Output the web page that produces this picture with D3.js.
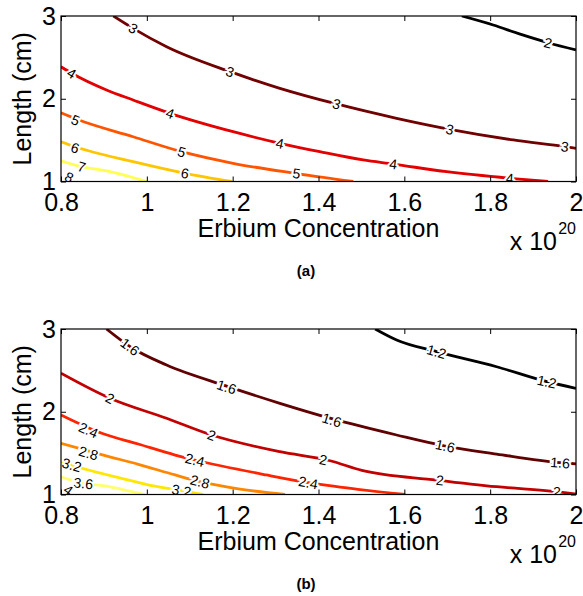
<!DOCTYPE html>
<html>
<head>
<meta charset="utf-8">
<script src="https://cdn.jsdelivr.net/npm/d3@7"></script>
<style>
body { margin: 0; background: #fff; }
text { font-family: "Liberation Sans", Arial, Helvetica, sans-serif; }
</style>
</head>
<body>
<div id="chart"></div>
<script>
// tick values
var xTicks = [0.8, 1, 1.2, 1.4, 1.6, 1.8, 2];
var yTicks = [1, 2, 3];

// panel (a): contour levels, lines as [erbium (x1e20), length (cm)], label spots
var levelsA = [2, 3, 4, 5, 6, 7, 8];
var linesA = [
  [[1.734,3.0],[1.807,2.891],[1.87,2.78],[1.935,2.677],[2.0,2.589]],
  [[0.922,3.0],[0.968,2.851],[1.046,2.629],[1.194,2.327],[1.310,2.126],[1.442,1.937],[1.582,1.764],[1.706,1.631],[1.854,1.502],[1.974,1.421],[2.0,1.401]],
  [[0.8,2.387],[0.825,2.308],[0.906,2.106],[0.968,1.985],[1.054,1.824],[1.201,1.602],[1.310,1.462],[1.403,1.360],[1.504,1.260],[1.574,1.211],[1.699,1.118],[1.846,1.039],[1.935,1.0]],
  [[0.8,1.831],[0.837,1.752],[0.968,1.541],[1.081,1.360],[1.201,1.220],[1.345,1.099],[1.481,1.0]],
  [[0.8,1.481],[0.833,1.420],[0.968,1.239],[1.089,1.099],[1.198,1.0]],
  [[0.8,1.251],[0.848,1.179],[0.903,1.131],[1.0,1.0]],
  [[0.8,1.066],[0.826,1.0]]
];
var labelsA = [
  [[1.935,2.677]],
  [[0.968,2.851],[1.194,2.327],[1.442,1.937],[1.706,1.631],[1.974,1.421]],
  [[0.825,2.308],[1.054,1.824],[1.310,1.462],[1.574,1.211],[1.846,1.039]],
  [[0.834,1.743],[1.081,1.360],[1.349,1.099]],
  [[0.833,1.408],[1.089,1.099]],
  [[0.848,1.179]],
  [[0.819,1.051]]
];

// panel (b)
var levelsB = [1.2, 1.6, 2, 2.4, 2.8, 3.2, 3.6, 4];
var linesB = [
  [[1.532,3.0],[1.582,2.867],[1.675,2.726],[1.815,2.544],[1.932,2.363],[2.0,2.283]],
  [[0.906,3.0],[0.961,2.786],[1.046,2.565],[1.186,2.31],[1.310,2.102],[1.431,1.916],[1.582,1.719],[1.695,1.586],[1.815,1.489],[1.963,1.384],[2.0,1.369]],
  [[0.8,2.465],[0.914,2.163],[1.046,1.921],[1.151,1.719],[1.310,1.517],[1.427,1.408],[1.501,1.292],[1.675,1.175],[1.815,1.094],[1.955,1.034],[2.0,1.006]],
  [[0.8,1.961],[0.895,1.740],[0.980,1.610],[1.066,1.477],[1.112,1.417],[1.279,1.236],[1.376,1.143],[1.497,1.060],[1.602,1.0]],
  [[0.8,1.619],[0.903,1.470],[0.980,1.365],[1.066,1.236],[1.124,1.155],[1.217,1.066],[1.322,1.0]],
  [[0.8,1.396],[0.864,1.296],[0.941,1.196],[1.015,1.103],[1.081,1.048],[1.131,1.0]],
  [[0.8,1.215],[0.852,1.135],[0.903,1.103],[0.949,1.054],[0.996,1.0]],
  [[0.8,1.079],[0.821,1.0]]
];
var labelsB = [
  [[1.675,2.726],[1.932,2.363]],
  [[0.961,2.786],[1.186,2.30],[1.431,1.90],[1.695,1.586],[1.963,1.384]],
  [[0.914,2.163],[1.151,1.719],[1.411,1.420],[1.683,1.172],[1.955,1.034]],
  [[0.864,1.779],[1.112,1.417],[1.376,1.143]],
  [[0.864,1.500],[1.124,1.155]],
  [[0.825,1.357],[1.081,1.048]],
  [[0.852,1.135]],
  [[0.817,1.054]]
];

var width = 583, height = 596;
var left = 61, right = 576, plotH = 165.5;

var svg = d3.select("#chart")
  .append("svg")
  .attr("width", width)
  .attr("height", height);

// matlab "hot" colormap
function hot(t) {
  var r = Math.min(1, t / 0.375),
      g = Math.max(0, Math.min(1, (t - 0.375) / 0.375)),
      b = Math.max(0, Math.min(1, (t - 0.75) / 0.25));
  return d3.rgb(r * 255, g * 255, b * 255).toString();
}

var x = d3.scaleLinear().domain([0.8, 2]).range([left, right]);

function drawPanel(top, levels, lines, labels, tag, id) {
  var y = d3.scaleLinear().domain([1, 3]).range([top + plotH, top]);
  var bottom = top + plotH;

  svg.append("clipPath").attr("id", id)
    .append("rect")
    .attr("x", left).attr("y", top)
    .attr("width", right - left).attr("height", plotH);

  var g = svg.append("g").attr("clip-path", "url(#" + id + ")");

  var line = d3.line()
    .x(function(d) { return x(d[0]); })
    .y(function(d) { return y(d[1]); })
    .curve(d3.curveMonotoneX);

  lines.forEach(function(pts, i) {
    g.append("path")
      .datum(pts)
      .attr("fill", "none")
      .attr("stroke", hot(i / (levels.length - 1)))
      .attr("stroke-width", 2.8)
      .attr("d", line);
  });

  // inline contour labels, turned along the line
  labels.forEach(function(spots, i) {
    var px = lines[i].map(function(d) { return [x(d[0]), y(d[1])]; });
    spots.forEach(function(s) {
      var lx = x(s[0]), ly = y(s[1]);
      var best = 1e9, ang = 0;
      for (var k = 0; k < px.length - 1; k++) {
        var mx = (px[k][0] + px[k + 1][0]) / 2, my = (px[k][1] + px[k + 1][1]) / 2;
        var dd = (mx - lx) * (mx - lx) + (my - ly) * (my - ly);
        if (dd < best) {
          best = dd;
          ang = Math.atan2(px[k + 1][1] - px[k][1], px[k + 1][0] - px[k][0]) * 180 / Math.PI;
        }
      }
      g.append("text")
        .attr("transform", "translate(" + lx + "," + ly + ") rotate(" + ang + ")")
        .attr("text-anchor", "middle")
        .attr("dy", "0.36em")
        .attr("stroke", "white")
        .attr("stroke-width", 4)
        .attr("paint-order", "stroke")
        .style("font-size", "14px")
        .text(String(levels[i]));
    });
  });

  // box
  svg.append("rect")
    .attr("x", left).attr("y", top)
    .attr("width", right - left).attr("height", plotH)
    .attr("fill", "none")
    .attr("stroke", "black")
    .attr("stroke-width", 1.2);

  // ticks on all four sides, pointing in
  var xb = svg.append("g")
    .attr("transform", "translate(0," + bottom + ")")
    .call(d3.axisBottom(x).tickValues(xTicks).tickSizeInner(-5).tickSizeOuter(0).tickFormat(d3.format("")));
  xb.selectAll("text").attr("y", 29.5).attr("dy", null).style("font-size", "25px").attr("fill", "black");
  svg.append("g")
    .attr("transform", "translate(0," + top + ")")
    .call(d3.axisTop(x).tickValues(xTicks).tickSizeInner(-5).tickSizeOuter(0).tickFormat(""));

  var yl = svg.append("g")
    .attr("transform", "translate(" + left + ",0)")
    .call(d3.axisLeft(y).tickValues(yTicks).tickSizeInner(-5).tickSizeOuter(0).tickPadding(5).tickFormat(d3.format("d")));
  yl.selectAll("text").style("font-size", "25px").attr("fill", "black");
  svg.append("g")
    .attr("transform", "translate(" + right + ",0)")
    .call(d3.axisRight(y).tickValues(yTicks).tickSizeInner(-5).tickSizeOuter(0).tickFormat(""));

  svg.selectAll(".domain").remove();
  svg.selectAll(".tick line").attr("stroke", "black");

  // axis labels
  svg.append("text")
    .attr("text-anchor", "middle")
    .attr("x", (left + right) / 2)
    .attr("y", bottom + 55)
    .style("font-size", "25px")
    .text("Erbium Concentration");

  svg.append("text")
    .attr("text-anchor", "end")
    .attr("x", 557)
    .attr("y", bottom + 68)
    .style("font-size", "25px")
    .text("x 10");
  svg.append("text")
    .attr("text-anchor", "end")
    .attr("x", right)
    .attr("y", bottom + 52)
    .style("font-size", "16px")
    .text("20");

  svg.append("text")
    .attr("text-anchor", "middle")
    .attr("transform", "translate(31," + (top + plotH / 2) + ") rotate(-90)")
    .style("font-size", "25px")
    .text("Length (cm)");

  svg.append("text")
    .attr("text-anchor", "middle")
    .attr("x", 306)
    .attr("y", bottom + 94)
    .style("font-size", "15px")
    .style("font-weight", "bold")
    .text(tag);
}

drawPanel(16, levelsA, linesA, labelsA, "(a)", "clipA");
drawPanel(329, levelsB, linesB, labelsB, "(b)", "clipB");
</script>
</body>
</html>
